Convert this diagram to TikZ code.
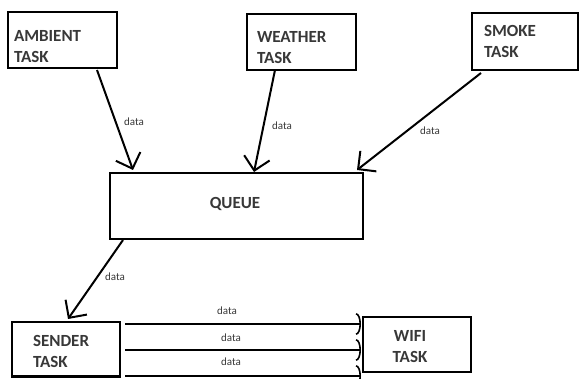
\documentclass[tikz,border=0pt]{standalone}
\usepackage{fontspec}
\setmainfont{Carlito}
\usetikzlibrary{arrows.meta}
\definecolor{textColor}{gray}{0.22}
\tikzset{
  box/.style={draw=black,line width=2.5pt,inner sep=0pt,outer sep=0pt},
  lbl/.style={text=textColor,inner sep=0pt,outer sep=0pt,align=left,font=\fontsize{17}{21}\selectfont\bfseries},
  flow/.style={draw=black,line width=2pt,-{Straight Barb[length=13pt,width=26pt,line width=2pt]}},
  wave/.style={draw=black,line width=2pt,-{Arc Barb[length=5pt,width=22pt,line width=1.6pt]}},
  tag/.style={text=textColor,inner sep=0pt,outer sep=0pt,font=\fontsize{11}{13}\selectfont}
}
\begin{document}
\begin{tikzpicture}[x=1pt,y=1pt]
\path[use as bounding box,fill=white] (0,0) rectangle (579,378);

% task boxes
\node[box,minimum width=109,minimum height=56] (amb) at (62.5,338) {};
\node[box,minimum width=109,minimum height=56] (wea) at (301.5,336) {};
\node[box,minimum width=106,minimum height=57] (smk) at (525,336.5) {};
\node[box,minimum width=253,minimum height=66] (que) at (236.5,172) {};
\node[box,minimum width=108,minimum height=54.5] (snd) at (66,28.75) {};
\node[box,minimum width=108,minimum height=55] (wifi) at (417,33.5) {};

% box texts
\node[lbl,anchor=north west] (ambtxt) at (14,348) {AMBIENT\\TASK};
\node[lbl,anchor=north west] (weatxt) at (257,347) {WEATHER\\TASK};
\node[lbl,anchor=north west] (smktxt) at (484,353) {SMOKE\\TASK};
\node[lbl,anchor=base] (quetxt) at (235,169) {QUEUE};
\node[lbl,anchor=north west] (sndtxt) at (33,43) {SENDER\\TASK};
\node[lbl,anchor=north,align=center] (wifitxt) at (410,48) {WIFI\\TASK};

% connectors
\draw[flow] ([xshift=34.5,yshift=-2]amb.south) -- ([xshift=-103.5,yshift=3]que.north);
\draw[flow] ([xshift=-26.5]wea.south) -- ([xshift=17.5,yshift=1]que.north);
\draw[flow] ([xshift=9,yshift=-3]smk.south west) -- ([xshift=-6,yshift=3]que.north east);
\draw[flow] ([xshift=13,yshift=-1]que.south west) -- ([xshift=2,yshift=3]snd.north);
\draw[wave] ([xshift=5,yshift=-2]snd.north east) -- ([xshift=-2,yshift=-7]wifi.north west);
\draw[wave] ([xshift=5,yshift=-0.75]snd.east) -- ([xshift=-2,yshift=-5.5]wifi.west);
\draw[wave] ([xshift=5,yshift=0.5]snd.south east) -- ([xshift=-2,yshift=-4]wifi.south west);

% data labels
\node[tag] (d1) at (134,256) {data};
\node[tag] (d2) at (282,252) {data};
\node[tag] (d3) at (430,247) {data};
\node[tag] (d4) at (115,101) {data};
\node[tag] (d5) at (227,67) {data};
\node[tag] (d6) at (231,40) {data};
\node[tag] (d7) at (231,16) {data};
\end{tikzpicture}
\end{document}
